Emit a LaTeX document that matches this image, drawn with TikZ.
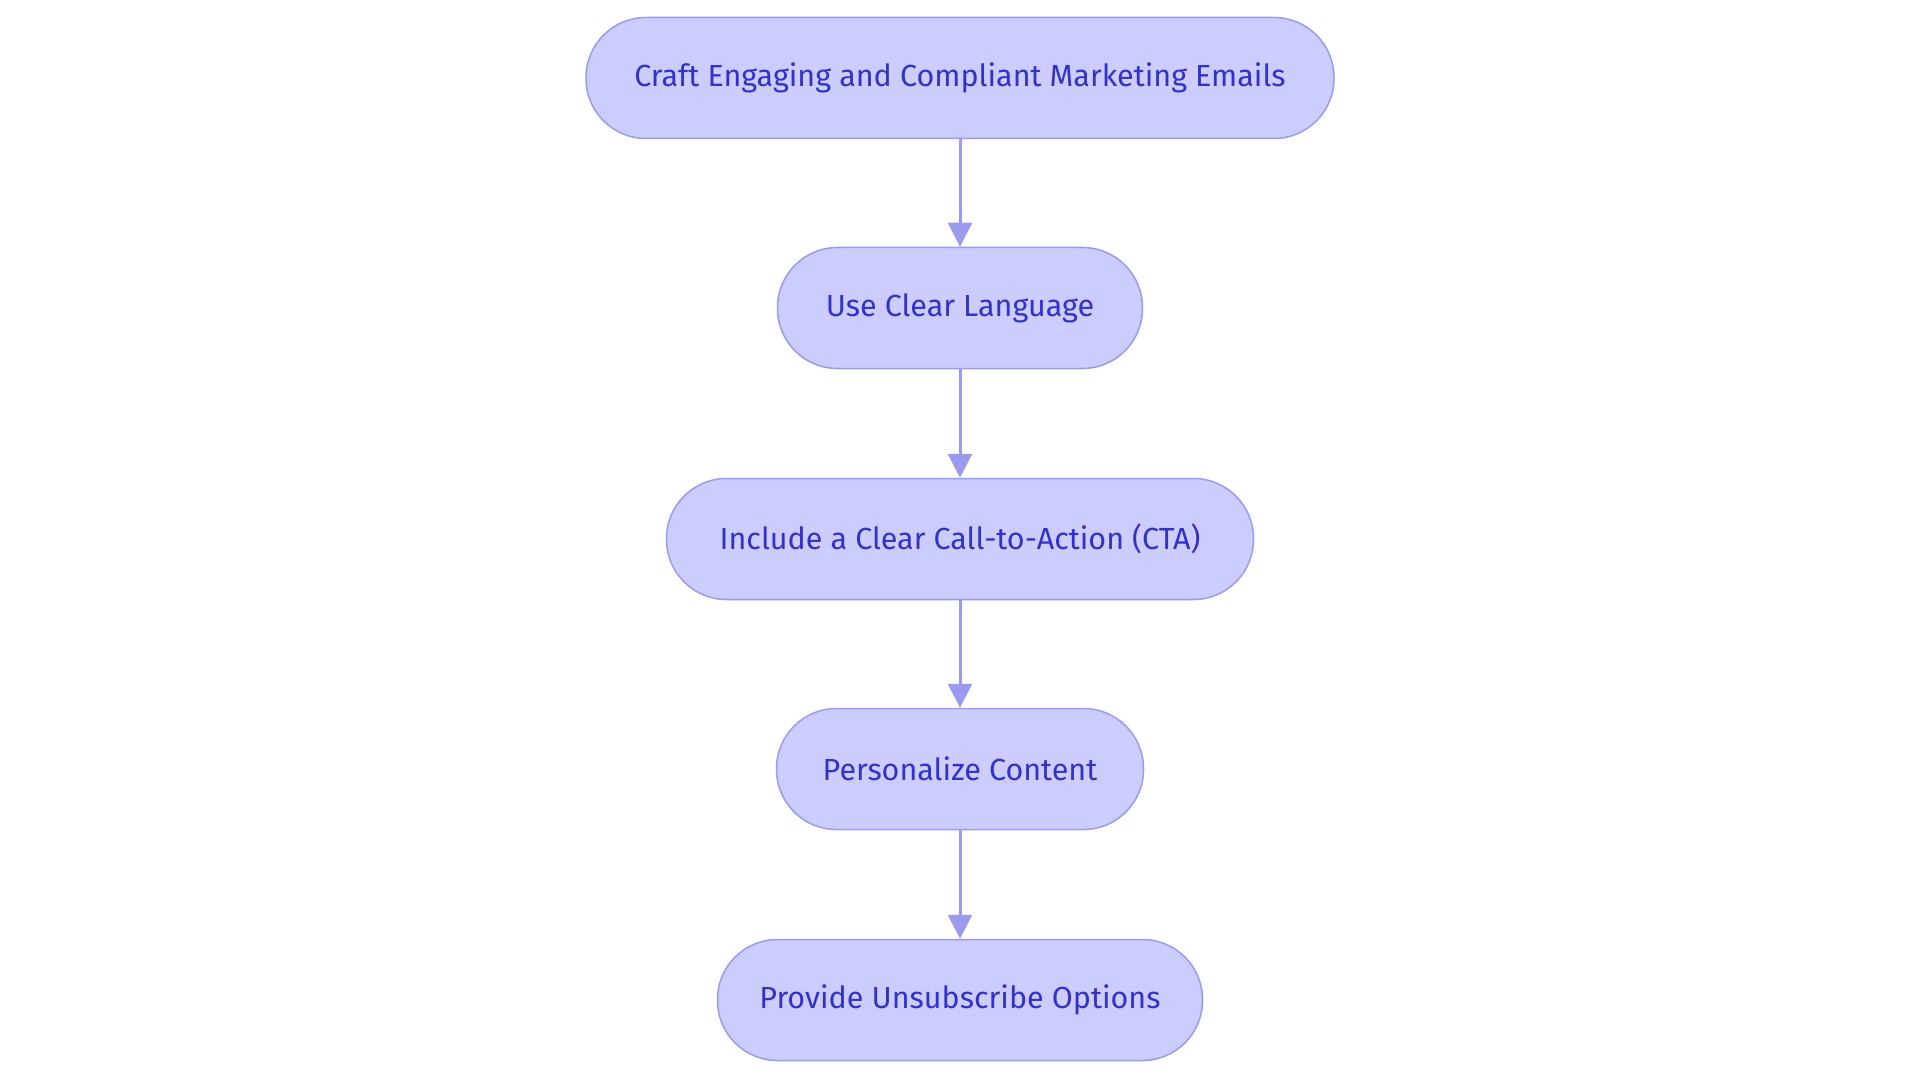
\documentclass[tikz,border=0pt]{standalone}
\usepackage{fontspec}
\setmainfont{Fira Sans}
\usetikzlibrary{arrows.meta}
\definecolor{nfill}{HTML}{CCCCFF}
\definecolor{nline}{HTML}{9A9AEE}
\definecolor{ntext}{HTML}{3232C8}
\begin{document}
\begin{tikzpicture}[x=1pt,y=-1pt,
  box/.style={draw=nline,line width=1.5pt,fill=nfill,rounded corners=60pt,minimum height=121pt,text=ntext,font=\fontsize{30.5}{36}\selectfont,inner sep=0pt},
  arr/.style={draw=nline,line width=3pt,-{Triangle[length=24pt,width=24pt]}}]
\useasboundingbox (0,0) rectangle (1920,1083);
\node[box,minimum width=748pt] (a) at (960,78) {Craft Engaging and Compliant Marketing Emails};
\node[box,minimum width=365pt] (b) at (960,308) {Use Clear Language};
\node[box,minimum width=587pt] (c) at (960,539) {Include a Clear Call-to-Action (CTA)};
\node[box,minimum width=367pt] (d) at (960,769) {Personalize Content};
\node[box,minimum width=485pt] (e) at (960,1000) {Provide Unsubscribe Options};
\draw[arr] (a) -- (b);
\draw[arr] (b) -- (c);
\draw[arr] (c) -- (d);
\draw[arr] (d) -- (e);
\end{tikzpicture}
\end{document}
